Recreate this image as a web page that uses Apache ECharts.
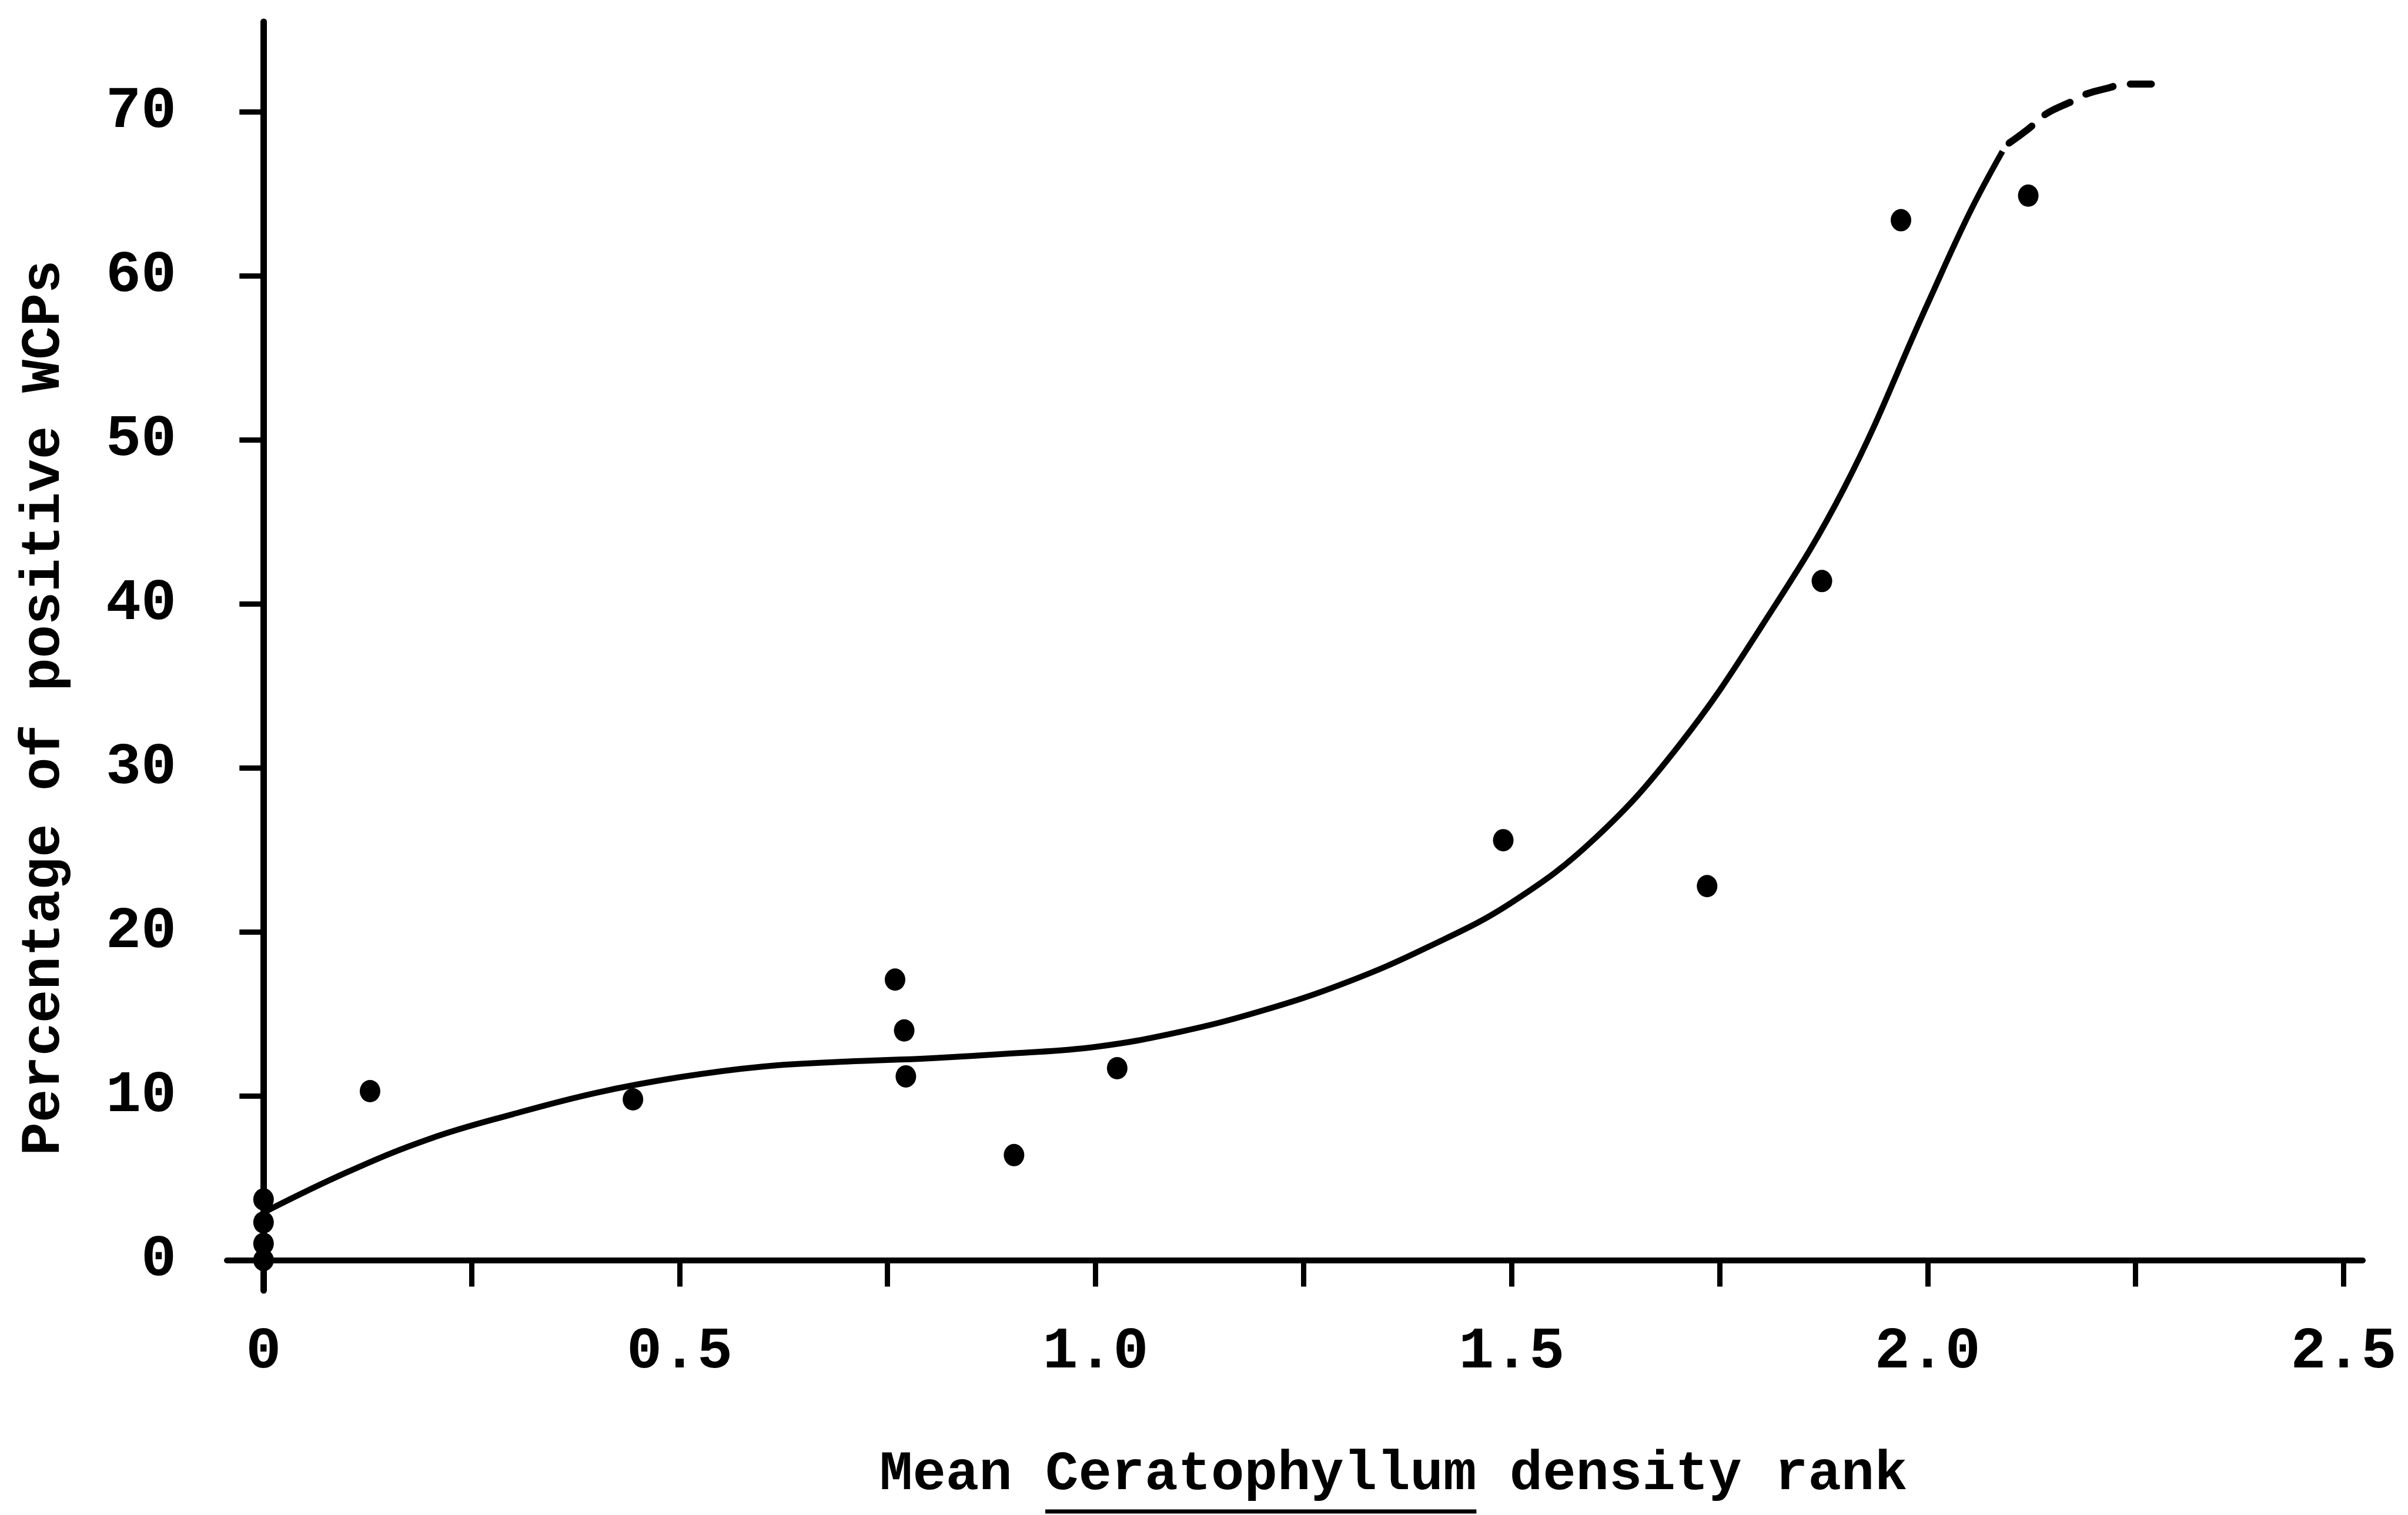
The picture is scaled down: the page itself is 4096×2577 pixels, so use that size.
<!DOCTYPE html>
<html>
<head>
<meta charset="utf-8">
<script src="https://cdn.jsdelivr.net/npm/echarts@6/dist/echarts.min.js"></script>
<style>
html,body{margin:0;padding:0;background:#fff;}
#chart{width:4096px;height:2577px;}
</style>
</head>
<body>
<div id="chart"></div>
<script>
// ---- data ----
const pointDensity = [0, 0, 0, 0, 0.128, 0.444, 0.759, 0.770, 0.772, 0.902, 1.026, 1.490, 1.735, 1.873, 1.968, 2.121];
const pointPercent = [0, 1.0, 2.3, 3.7, 10.3, 9.8, 17.1, 14.0, 11.2, 6.4, 11.7, 25.6, 22.8, 41.4, 63.4, 64.9];

const curveDensity = [0, 0.1, 0.2, 0.3, 0.4, 0.5, 0.6, 0.7, 0.8, 0.9, 1.0, 1.1, 1.2, 1.3, 1.4, 1.5, 1.6, 1.7, 1.8, 1.9, 2.0, 2.05, 2.09];
const curvePercent = [2.9, 5.35, 7.4, 8.9, 10.2, 11.15, 11.8, 12.1, 12.3, 12.6, 13.0, 13.9, 15.2, 16.9, 19.1, 21.8, 25.7, 31.3, 38.6, 47.1, 58.3, 63.8, 67.6];

const dashDensity = [2.098, 2.122, 2.143, 2.176, 2.191, 2.220, 2.233, 2.269];
const dashPercent = [68.1, 69.0, 69.9, 70.7, 71.1, 71.5, 71.7, 71.7];

const xTickValues = [0, 0.25, 0.5, 0.75, 1.0, 1.25, 1.5, 1.75, 2.0, 2.25, 2.5];
const xLabelValues = [0, 0.5, 1.0, 1.5, 2.0, 2.5];
const yTickValues = [0, 10, 20, 30, 40, 50, 60, 70];

const xTitleBefore = 'Mean ';
const xTitleItalic = 'Ceratophyllum';
const xTitleAfter = ' density rank';
const yTitle = 'Percentage of positive WCPs';

// ---- build ----
const zip = (a, b) => a.map((v, i) => [v, b[i]]);
const FONT_FAMILY = '"Liberation Mono", "DejaVu Sans Mono", monospace';
const FONT_SIZE = 94;
const TICK_FONT_SIZE = 100;
const FONT_WEIGHT = 'bold';
const fontStr = FONT_WEIGHT + ' ' + FONT_SIZE + 'px ' + FONT_FAMILY;

const ctx = document.createElement('canvas').getContext('2d');
ctx.font = fontStr;
const xTitleLeft = 1496;
const xTitleY = 2509;
const ulStart = xTitleLeft + ctx.measureText(xTitleBefore).width;
const ulEnd = xTitleLeft + ctx.measureText(xTitleBefore + xTitleItalic).width;

const chart = echarts.init(document.getElementById('chart'), null, {renderer: 'canvas'});
const option = {
  backgroundColor: '#ffffff',
  animation: false,
  grid: {left: 386, right: 77, top: 37, bottom: 382, containLabel: false, outerBoundsMode: 'none'},
  xAxis: {
    type: 'value',
    min: -0.044, max: 2.523,
    splitLine: {show: false},
    axisLine: {onZero: true, lineStyle: {color: '#000', width: 10}},
    axisTick: {show: true, length: 45, customValues: xTickValues, lineStyle: {color: '#000', width: 9}},
    axisLabel: {
      customValues: xLabelValues, margin: 56,
      color: '#000', fontFamily: FONT_FAMILY, fontSize: TICK_FONT_SIZE, fontWeight: FONT_WEIGHT,
      formatter: v => (v === 0 ? '0' : v.toFixed(1))
    }
  },
  yAxis: {
    type: 'value',
    min: -1.85, max: 75.5,
    splitLine: {show: false},
    axisLine: {onZero: true, lineStyle: {color: '#000', width: 11}},
    axisTick: {show: true, length: 41, customValues: yTickValues, lineStyle: {color: '#000', width: 9}},
    axisLabel: {
      customValues: yTickValues, margin: 86,
      color: '#000', fontFamily: FONT_FAMILY, fontSize: TICK_FONT_SIZE, fontWeight: FONT_WEIGHT,
      formatter: v => String(v)
    }
  },
  series: [
    {
      type: 'line', name: 'fit', data: zip(curveDensity, curvePercent),
      showSymbol: false, smooth: 0.4,
      lineStyle: {color: '#000', width: 10, opacity: 1}, z: 3
    },
    {
      type: 'line', name: 'fit-extrapolated', data: zip(dashDensity, dashPercent),
      showSymbol: false, smooth: 0.4,
      lineStyle: {color: '#000', width: 12, type: [48, 30], cap: 'round', opacity: 1}, z: 3
    },
    {
      type: 'scatter', name: 'WCPs', data: zip(pointDensity, pointPercent),
      symbol: 'circle', symbolSize: [35, 38],
      itemStyle: {color: '#000', opacity: 1}, z: 4
    }
  ],
  graphic: [
    {
      type: 'text', x: xTitleLeft, y: xTitleY,
      style: {
        text: xTitleBefore + xTitleItalic + xTitleAfter, font: fontStr, fill: '#000',
        align: 'left', verticalAlign: 'middle', textAlign: 'left', textVerticalAlign: 'middle'
      }
    },
    {
      type: 'line',
      shape: {x1: ulStart, y1: 2571, x2: ulEnd, y2: 2571},
      style: {stroke: '#000', lineWidth: 7}
    },
    {
      type: 'text', x: 76, y: 1204, rotation: Math.PI / 2,
      style: {
        text: yTitle, font: fontStr, fill: '#000',
        align: 'center', verticalAlign: 'middle', textAlign: 'center', textVerticalAlign: 'middle'
      }
    }
  ]
};
chart.setOption(option);
</script>
</body>
</html>
